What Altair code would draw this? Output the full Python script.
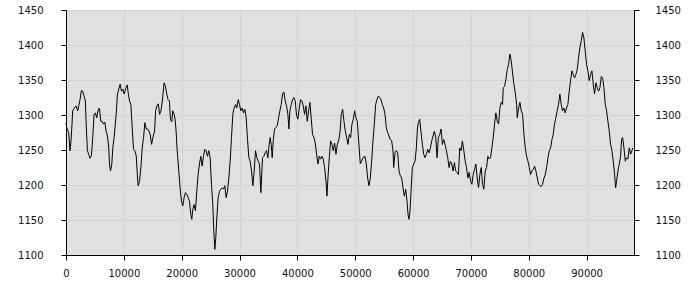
import altair as alt
import pandas as pd

xs = [0, 116, 462, 694, 867, 1040, 1156, 1445, 1734, 2023, 2196, 2428, 2659, 2890, 3121, 3352, 3468, 3699, 3930, 4162,
      4393, 4624, 4855, 5086, 5318, 5549, 5780, 6011, 6242, 6474, 6705, 6936, 7167, 7398, 7514, 7687, 7919, 8092, 8323, 8670,
      8901, 9132, 9364, 9595, 9826, 10057, 10288, 10577, 10751, 10982, 11213, 11444, 11676, 11907, 12138, 12369, 12485, 12716, 12947, 13178,
      13410, 13641, 13872, 14103, 14334, 14566, 14797, 15028, 15317, 15490, 15722, 15953, 16184, 16415, 16646,
      16958, 17189, 17419, 17650, 17881, 18054, 18285, 18458, 18689, 18862, 19035, 19208, 19324, 19497, 19727, 19958, 20189, 20420, 20651,
      20881, 21112, 21343, 21574, 21747, 21920, 22151, 22382, 22612, 22843, 23074, 23305, 23536, 23766, 23997, 24228, 24459, 24690, 24920,
      25151, 25382, 25555, 25728, 25900, 26074, 26305, 26536, 26766, 26997, 27228, 27459, 27690, 27920, 28151, 28382, 28613, 28844, 29074,
      29305, 29536, 29767, 29998, 30228, 30459, 30690, 30921, 31152, 31382, 31613, 31844, 32075, 32306, 32536, 32767, 32998, 33229, 33460, 33690,
      33977, 34208, 34438, 34669, 34900, 35131, 35304, 35477, 35650, 35823, 36054, 36285, 36516, 36747, 36977, 37208, 37439, 37670, 37901,
      38131, 38362, 38535, 38708, 38939, 39170, 39401, 39632, 39862, 40093, 40324, 40555, 40786, 41016, 41247, 41478, 41709, 41940, 42170,
      42401, 42632, 42863, 43094, 43324, 43555, 43786, 44017, 44248, 44478, 44709, 44940, 45113, 45286, 45517, 45748, 45978, 46209, 46440,
      46671, 46902, 47132, 47363, 47594, 47825, 48056, 48286, 48517, 48748, 48979, 49210, 49440, 49671, 49902, 50133, 50363, 50594,
      50881, 51112, 51342, 51689, 51919, 52150, 52381, 52612, 52843, 53073, 53304, 53535, 53766, 53997, 54227, 54458, 54689, 54920, 55151,
      55381, 55612, 55843, 56074, 56305, 56535, 56650, 56881, 57112, 57343, 57574, 57804, 58035, 58266, 58497, 58728, 58958, 59131, 59304,
      59477, 59650, 59881, 60112, 60342, 60573, 60746, 60919, 61150, 61381, 61612, 61842, 62073, 62304, 62535, 62766, 62996, 63227, 63458,
      63689, 63920, 64150, 64381, 64612, 64843, 65074, 65304, 65535, 65766, 65997, 66228, 66458, 66689, 66920, 67151, 67382, 67612, 67843,
      68074, 68305, 68535,
      68783, 69014, 69245, 69476, 69706, 69937, 70168, 70399, 70630, 70860, 71091, 71322, 71553, 71784, 72014, 72245, 72476, 72707, 72938,
      73168, 73399, 73630, 73861, 74092, 74322, 74553, 74784, 75015, 75246, 75476, 75592, 75823, 76054, 76284, 76515, 76746, 76977, 77208,
      77439, 77670, 77900, 78016, 78247, 78478, 78708, 78939, 79170, 79401, 79632, 79862, 80093, 80324, 80555, 80786, 81016, 81247, 81478,
      81709, 81940, 82170, 82401, 82632, 82863, 83094, 83324, 83555, 83786, 84017,
      84230, 84461, 84692, 84922, 85153, 85384, 85615, 85846, 86076, 86307, 86538, 86769, 87000, 87230, 87461, 87692, 87923, 88154, 88384,
      88615, 88846, 89077, 89308, 89538, 89769, 90000, 90230, 90461, 90692, 90923, 91154, 91384, 91615, 91846, 92077, 92307, 92538, 92769,
      93000, 93230, 93461, 93692, 93923, 94153, 94384, 94615, 94846, 95019, 95192, 95423, 95653, 95884, 96057, 96230, 96461, 96692, 96923,
      97153, 97384, 97615, 97846, 97961]

ys = [1289, 1282, 1275, 1249, 1263, 1287, 1306, 1310, 1313, 1306, 1313, 1322, 1335, 1334, 1327, 1320, 1291, 1249, 1244, 1238,
      1242, 1268, 1301, 1303, 1296, 1307, 1310, 1291, 1291, 1287, 1290, 1277, 1270, 1253, 1230, 1220, 1230, 1253, 1268, 1301,
      1330, 1337, 1344, 1334, 1337, 1330, 1337, 1343, 1332, 1320, 1315, 1282, 1251, 1249, 1242, 1210, 1199, 1206, 1225, 1253,
      1268, 1289, 1280, 1280, 1277, 1272, 1258, 1268, 1277, 1306, 1313, 1316, 1301, 1306, 1320,
      1346, 1341, 1330, 1322, 1320, 1294, 1290, 1306, 1301, 1294, 1277, 1251, 1239, 1220, 1196, 1177, 1170, 1182, 1189,
      1187, 1182, 1177, 1158, 1151, 1165, 1172, 1163, 1191, 1215, 1230, 1241, 1227, 1241, 1251, 1249, 1241, 1249, 1239,
      1201, 1172, 1134, 1108, 1125, 1153, 1182, 1191, 1194, 1196, 1194, 1199, 1182, 1191, 1210, 1234, 1268, 1301, 1310,
      1315, 1310, 1322, 1315, 1306, 1310, 1303, 1308, 1296, 1265, 1239, 1234, 1220, 1199, 1220, 1249, 1239, 1234, 1230, 1189,
      1239, 1241, 1246, 1249, 1239, 1258, 1268, 1258, 1239, 1263, 1280, 1282, 1285, 1296, 1306, 1315, 1330, 1333, 1320,
      1313, 1301, 1280, 1306, 1315, 1322, 1325, 1320, 1299, 1294, 1310, 1322, 1320, 1313, 1301, 1313, 1291, 1306, 1318,
      1294, 1272, 1268, 1260, 1244, 1230, 1241, 1237, 1241, 1237, 1225, 1206, 1184, 1210, 1239, 1263, 1258, 1249, 1260,
      1244, 1258, 1263, 1275, 1301, 1308, 1291, 1277, 1268, 1258, 1272, 1268, 1287, 1294, 1306, 1296, 1291, 1263,
      1230, 1234, 1239, 1241, 1230, 1210, 1199, 1210, 1234, 1263, 1287, 1315, 1322, 1327, 1325, 1322, 1315, 1310, 1301,
      1282, 1275, 1270, 1265, 1263, 1249, 1225, 1246, 1249, 1246, 1220, 1213, 1210, 1196, 1184, 1194, 1177, 1158, 1151,
      1163, 1191, 1225, 1230, 1234, 1253, 1280, 1289, 1294, 1275, 1258, 1244, 1239, 1244, 1251, 1246, 1253, 1263, 1270,
      1277, 1268, 1239, 1268, 1272, 1280, 1258, 1265, 1258, 1249, 1239, 1225, 1234, 1230, 1220, 1232, 1220, 1218, 1215,
      1253, 1249, 1263,
      1249, 1234, 1225, 1210, 1218, 1206, 1201, 1215, 1222, 1230, 1210, 1196, 1215, 1225, 1201, 1194, 1220, 1225, 1241,
      1237, 1239, 1253, 1268, 1287, 1303, 1291, 1287, 1310, 1318, 1315, 1339, 1341, 1351, 1365, 1372, 1387, 1377, 1360,
      1344, 1332, 1315, 1296, 1310, 1318, 1306, 1301, 1272, 1253, 1241, 1234, 1225, 1215, 1220, 1222, 1227, 1220, 1210,
      1201, 1199, 1198, 1201, 1210, 1215, 1225, 1239, 1249, 1253, 1265,
      1272, 1287, 1296, 1306, 1315, 1330, 1315, 1306, 1310, 1303, 1310, 1315, 1334, 1349, 1363, 1358, 1353, 1358, 1365,
      1382, 1396, 1406, 1418, 1410, 1391, 1372, 1363, 1349, 1358, 1363, 1344, 1330, 1346, 1339, 1334, 1339, 1355, 1353,
      1339, 1315, 1306, 1291, 1277, 1258, 1249, 1234, 1215, 1196, 1206, 1220, 1230, 1241, 1265, 1268, 1253, 1234, 1239,
      1237, 1253, 1244, 1249, 1253]

y_ticks = [1100, 1150, 1200, 1250, 1300, 1350, 1400, 1450]
x_ticks = [0, 10000, 20000, 30000, 40000, 50000, 60000, 70000, 80000, 90000]

df = pd.DataFrame({"x": xs, "y": ys})

FONT = "DejaVu Sans"
xscale = alt.Scale(domain=[0, 98200], nice=False, zero=False)
yscale = alt.Scale(domain=[1100, 1450], nice=False, zero=False)

base = alt.Chart(df)

left = base.mark_line(color="black", strokeWidth=1, interpolate="linear").encode(
    x=alt.X("x:Q", scale=xscale, title=None,
            axis=alt.Axis(values=x_ticks, format="d", grid=True, gridColor="#d2d2d2",
                          domainColor="black", tickColor="black", tickSize=5,
                          labelFont=FONT, labelFontSize=10, labelColor="#111",
                          labelPadding=8, labelFlush=False)),
    y=alt.Y("y:Q", scale=yscale, title=None,
            axis=alt.Axis(orient="left", values=y_ticks, format="d", grid=True, gridColor="#d2d2d2",
                          domainColor="black", tickColor="black", tickSize=5,
                          labelFont=FONT, labelFontSize=10, labelColor="#111",
                          labelPadding=18)),
)

right = base.mark_line(opacity=0).encode(
    x=alt.X("x:Q", scale=xscale),
    y=alt.Y("y:Q", scale=yscale, title=None,
            axis=alt.Axis(orient="right", values=y_ticks, format="d", grid=False,
                          domainColor="black", tickColor="black", tickSize=5,
                          labelFont=FONT, labelFontSize=10, labelColor="#111",
                          labelPadding=16)),
)

chart = alt.layer(left, right).resolve_axis(y="independent").properties(
    width=568, height=245,
    autosize=alt.AutoSizeParams(type="none"),
    padding={"left": 66, "top": 10, "right": 66, "bottom": 45},
    background="white",
).configure_view(fill="#e0e0e0", stroke="black", strokeWidth=1)

chart.save("out.html", embed_options={"renderer": "svg", "actions": False})
